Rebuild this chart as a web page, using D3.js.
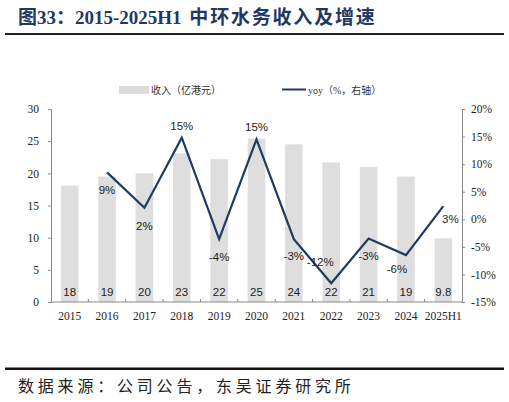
<!DOCTYPE html>
<html><head><meta charset="utf-8">
<script src="https://cdn.jsdelivr.net/npm/d3@7"></script>
<style>body{margin:0;background:#fff}svg{display:block}</style>
</head><body>
<svg id="c" width="509" height="402"></svg>
<script>
const categories = ["2015","2016","2017","2018","2019","2020","2021","2022","2023","2024","2025H1"];
const revenue = [18.1, 19.5, 20.0, 23.1, 22.2, 25.4, 24.5, 21.7, 21.0, 19.5, 9.9];
const revenueLabels = ["18","19","20","23","22","25","24","22","21","19","9.8"];
const yoy = [null, 8.5, 2.1, 14.8, -3.6, 14.5, -3.6, -11.6, -3.5, -6.5, 2.4];
const yoyLabels = [null, "9%","2%","15%","-4%","15%","-3%","-12%","-3%","-6%","3%"];
const leftTicks = [0,5,10,15,20,25,30];
const rightTicks = [-15,-10,-5,0,5,10,15,20];

const svg = d3.select("#c");
const M = {l:51, r:462, t:109, b:302};
const x = d3.scaleBand().domain(categories).range([M.l, M.r]).paddingInner(0.53).paddingOuter(0.265);
const band = d3.scaleBand().domain(categories).range([M.l, M.r]);
const yL = d3.scaleLinear().domain([0,30]).range([M.b, M.t]);
const yR = d3.scaleLinear().domain([-15,20]).range([M.b, M.t]);
const navy = "#1f3b5e";
const serif = "'Liberation Serif','Times New Roman',serif";
const sans = "'Liberation Sans',Arial,sans-serif";

// title
const title = svg.append("text").attr("x",18).attr("y",24).attr("fill","#1f3864")
  .attr("font-family","'Liberation Serif','Noto Sans CJK SC',serif").attr("font-weight","bold").attr("font-size",19);
title.append("tspan").text("图33：2015-2025H1 ");
title.append("tspan").attr("dx",3).attr("letter-spacing",1.8).text("中环水务收入及增速");
svg.append("rect").attr("x",5).attr("y",33).attr("width",499).attr("height",2).attr("fill","#222");
svg.append("rect").attr("x",5).attr("y",367.5).attr("width",499).attr("height",2.5).attr("fill","#111");
svg.append("text").attr("x",18).attr("y",392).attr("fill","#222")
  .attr("font-family","'Noto Sans CJK SC',sans-serif").attr("font-size",16).attr("letter-spacing",3.8)
  .text("数据来源：公司公告，东吴证券研究所");

// legend
svg.append("rect").attr("x",119).attr("y",86).attr("width",30).attr("height",8).attr("fill","#dcdcdc");
svg.append("text").attr("x",151).attr("y",93.5).attr("font-family","'Noto Sans CJK SC',serif").attr("font-size",10).attr("fill","#333").text("收入（亿港元）");
svg.append("line").attr("x1",282).attr("x2",306).attr("y1",89.5).attr("y2",89.5).attr("stroke",navy).attr("stroke-width",2);
svg.append("text").attr("x",308).attr("y",93.5).attr("font-family",serif+",'Noto Sans CJK SC'").attr("font-size",10).attr("fill","#333").text("yoy（%，右轴）");

// bars
svg.append("g").selectAll("rect").data(categories).join("rect")
  .attr("x", d=>x(d)).attr("width", x.bandwidth())
  .attr("y", (d,i)=>yL(revenue[i])).attr("height",(d,i)=>yL(0)-yL(revenue[i]))
  .attr("fill","#dedede");

// axes
const axL = svg.append("g").attr("transform",`translate(${M.l},0)`)
  .call(d3.axisLeft(yL).tickValues(leftTicks).tickSize(3).tickPadding(9));
const axR = svg.append("g").attr("transform",`translate(${M.r},0)`)
  .call(d3.axisRight(yR).tickValues(rightTicks).tickSize(3).tickPadding(6).tickFormat(d=>d+"%"));
const axB = svg.append("g").attr("transform",`translate(0,${M.b})`)
  .call(d3.axisBottom(band).tickSize(0).tickPadding(10));
// boundary ticks on x axis (pointing up)
svg.append("g").selectAll("line").data(categories.slice(1)).join("line")
  .attr("x1",d=>band(d)).attr("x2",d=>band(d)).attr("y1",M.b).attr("y2",M.b-3)
  .attr("stroke","#888");
[axL,axR,axB].forEach(a=>{
  a.selectAll("path,line").attr("stroke","#888");
  a.selectAll("text").attr("font-family",serif).attr("font-size",11.5).attr("fill","#222");
});
axB.select(".domain").attr("d",`M${M.l},0H${M.r}`);

// bar value labels
svg.append("g").selectAll("text").data(categories).join("text")
  .attr("x",d=>x(d)+x.bandwidth()/2).attr("y",295.5).attr("text-anchor","middle")
  .attr("font-family",sans).attr("font-size",11.5).attr("fill","#222")
  .text((d,i)=>revenueLabels[i]);

// line
const pts = categories.map((c,i)=>({c, v:yoy[i], l:yoyLabels[i]})).filter(d=>d.v!==null);
const cx = d=>band(d.c)+band.bandwidth()/2;
svg.append("path").datum(pts)
  .attr("d", d3.line().x(cx).y(d=>yR(d.v)))
  .attr("fill","none").attr("stroke",navy).attr("stroke-width",2.2);

// yoy labels with offsets
const off = {"2016":[0,22],"2017":[0,22],"2018":[0,-8],"2019":[0,22],"2020":[0,-8],
  "2021":[0,21],"2022":[-11,-17],"2023":[0,21],"2024":[-9,18],"2025H1":[7,17]};
svg.append("g").selectAll("text").data(pts).join("text")
  .attr("x",d=>cx(d)+off[d.c][0]).attr("y",d=>yR(d.v)+off[d.c][1]).attr("text-anchor","middle")
  .attr("font-family",sans).attr("font-size",11.5).attr("fill","#222")
  .text(d=>d.l);
</script>
</body></html>
